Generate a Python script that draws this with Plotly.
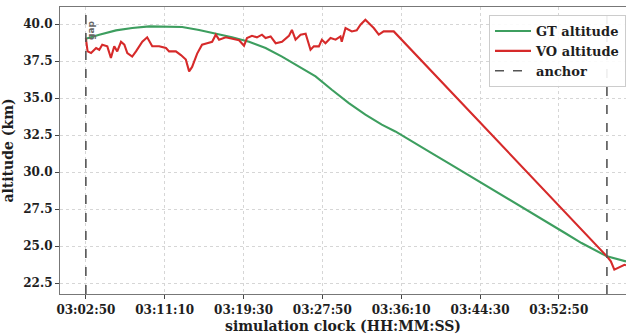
import pandas as pd
import plotly.graph_objects as go

# Clock origin (first anchor) and x-axis tick spacing
t0 = pd.Timestamp("2024-01-01 03:02:50")
tick_step_s = 500
tick_count = 7

# Ground-truth altitude: seconds since t0, km
gt_t = [0, 85, 191, 294, 402, 508, 611, 718, 824, 927, 1035, 1140, 1244, 1351,
        1457, 1560, 1668, 1773, 1877, 1963, 2090, 2193, 2300, 2406, 2511, 2617,
        2723, 2828, 2934, 3039, 3144, 3250, 3305, 3426]
gt_alt = [39.0, 39.28, 39.57, 39.73, 39.84, 39.84, 39.8, 39.6, 39.35, 39.1, 38.8,
          38.38, 37.8, 37.1, 36.46, 35.56, 34.66, 33.87, 33.2, 32.74, 31.96, 31.28,
          30.6, 29.93, 29.26, 28.58, 27.9, 27.23, 26.55, 25.88, 25.2, 24.64, 24.3, 23.96]

# Visual-odometry altitude estimate: seconds since t0, km
vo_t = [0, 11, 33, 65, 85, 104, 136, 159, 180, 199, 223, 244, 263, 294, 318, 358,
        389, 421, 465, 508, 528, 571, 603, 634, 655, 674, 706, 737, 769, 801, 824,
        845, 887, 927, 972, 1003, 1022, 1054, 1085, 1117, 1140, 1172, 1204, 1244,
        1288, 1307, 1330, 1362, 1394, 1425, 1446, 1478, 1497, 1520, 1552, 1584,
        1615, 1623, 1647, 1687, 1718, 1742, 1773, 1805, 1826, 1858, 1889, 1921,
        1953, 3305, 3330, 3352, 3373, 3394, 3416, 3426]
vo_alt = [39.05, 38.15, 38.04, 38.38, 38.26, 38.6, 38.49, 37.7, 38.5, 38.15, 38.8,
          38.6, 38.04, 37.8, 38.15, 38.8, 39.1, 38.5, 38.5, 38.38, 38.15, 38.15,
          37.9, 37.6, 36.8, 37.1, 38.0, 38.6, 38.7, 38.8, 39.28, 38.94, 39.1, 39.0,
          38.9, 38.53, 39.05, 39.2, 39.1, 39.28, 39.05, 39.16, 38.7, 38.8, 39.2,
          39.6, 38.94, 39.28, 39.35, 38.26, 38.49, 38.49, 38.94, 38.7, 39.05, 38.94,
          39.16, 38.8, 39.73, 39.5, 39.57, 39.95, 40.29, 39.95, 39.73, 39.28, 39.5,
          39.5, 39.5, 24.3, 23.96, 23.4, 23.5, 23.6, 23.73, 23.7]

# Anchor times (s since t0)
anchor_t = [0, 3305]

# Axis limits
x_lim_s = (-164, 3426)
y_lim = (21.757, 41.149)
y_ticks = [22.5, 25.0, 27.5, 30.0, 32.5, 35.0, 37.5, 40.0]


def clock(seconds):
    return [None if s is None else t0 + pd.Timedelta(seconds=s) for s in seconds]


serif = "DejaVu Serif"
fig = go.Figure()

fig.add_trace(go.Scatter(
    x=clock(gt_t), y=gt_alt, mode="lines", name="GT altitude",
    line=dict(color="#3d9e5f", width=2.1)))
fig.add_trace(go.Scatter(
    x=clock(vo_t), y=vo_alt, mode="lines", name="VO altitude",
    line=dict(color="#d62a2a", width=2.1)))

ax_x, ax_y = [], []
for a in anchor_t:
    ax_x += [a, a, None]
    ax_y += [y_lim[0], y_lim[1], None]
fig.add_trace(go.Scatter(
    x=clock(ax_x), y=ax_y, mode="lines", name="anchor",
    line=dict(color="#555555", width=1.6, dash="dash")))

fig.add_annotation(
    x=clock([33])[0], y=39.6, xref="x", yref="y", text="gap",
    textangle=-90, showarrow=False,
    font=dict(family="DejaVu Sans", size=9, color="#666666"))

tick_vals = clock([k * tick_step_s for k in range(tick_count)])
tick_text = [t.strftime("%H:%M:%S") for t in tick_vals]

fig.update_layout(
    width=626, height=334,
    margin=dict(l=60, r=0, t=7, b=40),
    paper_bgcolor="white", plot_bgcolor="white",
    font=dict(family=serif, size=12, color="#1e1e1e", weight="bold"),
    showlegend=True,
    legend=dict(
        x=1.0, xanchor="right", y=0.972, yanchor="top",
        bgcolor="rgba(255,255,255,0.9)", bordercolor="#cccccc", borderwidth=1,
        font=dict(family=serif, size=13, color="#1e1e1e", weight="bold"),
        tracegroupgap=0, itemwidth=36),
    xaxis=dict(
        type="date", range=clock(list(x_lim_s)),
        tickvals=tick_vals, ticktext=tick_text,
        ticks="outside", ticklen=4, tickcolor="#444444",
        showline=True, linecolor="#777777", linewidth=1.2, mirror=True,
        showgrid=True, gridcolor="#d6d6d6", griddash="dot", gridwidth=1,
        zeroline=False,
        title=dict(text="simulation clock (HH:MM:SS)", standoff=6,
                   font=dict(family=serif, size=14, weight="bold"))),
    yaxis=dict(
        range=list(y_lim), tickvals=y_ticks,
        ticktext=[f"{v:.1f}" for v in y_ticks],
        ticks="outside", ticklen=4, tickcolor="#444444",
        showline=True, linecolor="#777777", linewidth=1.2, mirror=False,
        showgrid=True, gridcolor="#d6d6d6", griddash="dot", gridwidth=1,
        zeroline=False,
        title=dict(text="altitude (km)", standoff=6,
                   font=dict(family=serif, size=14, weight="bold"))),
)

fig.write_html("out.html")
